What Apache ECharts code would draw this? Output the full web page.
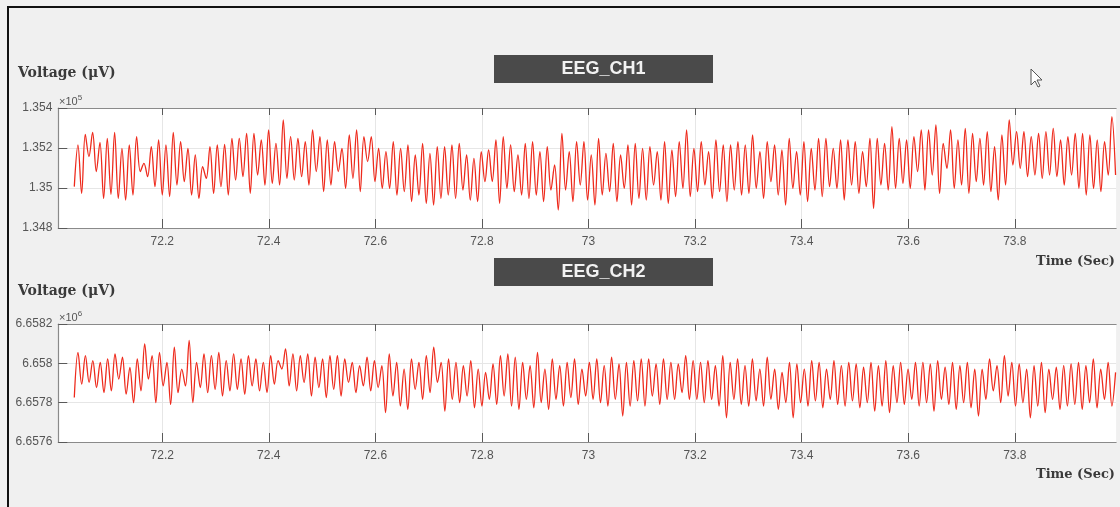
<!DOCTYPE html>
<html>
<head>
<meta charset="utf-8">
<script src="https://cdn.jsdelivr.net/npm/echarts@6/dist/echarts.min.js"></script>
<style>
html,body{margin:0;padding:0;background:#f0f0f0;}
#chart{width:1120px;height:507px;}
</style>
</head>
<body>
<div id="chart"></div>
<script>
// ---- data ----
const chartTitles = ["EEG_CH1", "EEG_CH2"];
const yAxisName = "Voltage (\u03bcV)";
const xAxisName = "Time (Sec)";
const timeStart = 72.035;   // first sample (s)
const timeEnd = 73.989;     // last sample (s)
const xMin = 72.005, xMax = 73.99;
const xTickValues = [72.2, 72.4, 72.6, 72.8, 73.0, 73.2, 73.4, 73.6, 73.8];
const ch1Range = [134800, 135400], ch1Step = 200, ch1Exp = 5;
const ch2Range = [6657600, 6658200], ch2Step = 200, ch2Exp = 6;

// EEG channel 1 (uV), peaks/troughs
const ch1Values = [
135007,135215,134973,135268,135157,135278,135082,135228,134948,135248,134968,135278,134948,135198,134940,135215,134965,135257,135082,135123,
135057,135207,135007,135240,134965,135215,134957,135278,135015,135232,135032,135198,134965,135165,134948,135107,135048,135207,134973,135215,
135007,135218,134965,135248,135040,135248,135057,135273,134973,135273,135065,135240,135015,135290,135023,135223,135015,135340,
135048,135257,135040,135248,135057,135232,135015,135290,135082,135257,134982,135240,135015,135232,135082,135198,134998,135265,135048,135290,
134982,135257,135132,135257,135032,135198,134998,135182,134998,135232,134965,135198,134982,135215,134932,135165,134965,135223,134923,135173,
134915,135207,134948,135207,134965,135215,134948,135223,134990,135165,134940,135148,134932,135182,135032,135190,
135032,135240,134923,135257,134998,135215,134982,135165,134965,135223,134948,135232,134965,135182,134932,135207,134990,135115,134890,135273,
134990,135182,134932,135232,135015,135232,134940,135165,134915,135248,134965,135173,134982,135223,134932,135165,134998,135215,134915,135223,
134948,135198,134940,135207,135015,135182,134940,135232,134923,135190,134957,135232,134998,135290,134957,135198,
134982,135232,135015,135182,134948,135240,134982,135215,134932,135215,134990,135232,134965,135215,134973,135265,134998,135182,134948,135232,
135032,135215,134965,135190,134915,135248,134998,135182,134965,135232,134932,135198,134990,135248,134957,135248,135007,135198,134998,135240,
134940,135240,135015,135232,134973,135182,135007,135248,134898,135248,135015,135223,134990,135307,134998,135248,
135023,135240,134998,135257,135082,135290,134990,135290,135065,135315,134973,135223,135098,135290,134998,135240,135015,135298,134973,135273,
135032,135248,135015,135282,134982,135207,134940,135265,135015,135340,135115,135282,135098,135282,135057,135257,135065,135273,135048,135282,
135065,135298,135057,135240,135015,135257,135065,135273,134998,135273,134965,135265,134998,135240,134982,135232,135065,135357,135065
];

// EEG channel 2 (uV), peaks/troughs
const ch2Values = [
6657826,6658056,6657894,6658039,6657903,6658014,6657877,6658005,6657851,6658022,6657860,6658048,6657920,6658031,6657843,6657979,6657800,6658022,6657860,6658099,
6657920,6658039,6657800,6658056,6657885,6658005,6657791,6658082,6657851,6657971,6657885,6658116,6657800,6658005,6657877,6658048,6657851,6658039,6657868,6658056,
6657834,6658014,6657860,6658048,6657868,6658022,6657843,6658039,6657885,6658022,6657860,6658005,6657851,6658039,6657894,6658014,
6657971,6658074,6657885,6658048,6657860,6658039,6657903,6658048,6657834,6658031,6657877,6658022,6657826,6658039,6657868,6658039,6657834,6658022,6657903,6658005,
6657851,6657988,6657885,6658031,6657860,6658014,6657877,6657988,6657749,6658048,6657834,6658005,6657783,6657971,6657766,6658022,6657868,6658005,6657817,6658039,
6657851,6658082,6657903,6658005,6657757,6658022,6657817,6658005,6657800,6657988,6657834,6658014,6657774,6657971,6657783,6657954,
6657817,6657997,6657791,6658039,6657834,6658048,6657783,6658031,6657766,6658005,6657817,6657988,6657774,6658056,6657800,6657971,6657766,6658022,6657817,6657988,
6657783,6658005,6657826,6658022,6657791,6657971,6657834,6658005,6657817,6658022,6657800,6657988,6657783,6658031,6657817,6657997,6657732,6658005,6657783,6658014,
6657809,6658022,6657783,6658022,6657834,6657997,6657791,6658022,6657817,6658005,6657817,6657997,6657851,6658039,6657817,6658014,
6657817,6658005,6657800,6658014,6657817,6657988,6657783,6658039,6657723,6658005,6657817,6658022,6657791,6657988,6657783,6658022,6657809,6657971,6657783,6658031,
6657817,6657971,6657766,6657954,6657800,6658005,6657723,6657997,6657800,6657971,6657783,6658014,6657809,6658005,6657774,6657971,6657817,6658014,6657791,6657988,
6657783,6658005,6657809,6657997,6657774,6657980,6657800,6658005,6657757,6657988,6657783,6658014,6657749,6657988,6657800,6658005,
6657791,6657971,6657817,6658005,6657783,6658005,6657800,6657997,6657757,6658014,6657817,6657980,6657791,6658005,6657766,6657988,6657800,6658005,6657774,6657971,
6657732,6657971,6657817,6658022,6657860,6657988,6657800,6658039,6657834,6658005,6657783,6657997,6657800,6657971,6657723,6657988,6657783,6658005,6657749,6657971,
6657817,6657980,6657766,6657988,6657783,6657997,6657791,6658005,6657766,6657988,6657800,6658022,6657774,6657971,6657817,6658005,6657783,6657954
];

// ---- build ----
function toSeries(vals) {
  const n = vals.length;
  const dt = (timeEnd - timeStart) / (n - 1);
  return vals.map((v, i) => [timeStart + i * dt, v]);
}
function fmtExp(exp) {
  const p = Math.pow(10, exp);
  return v => String(parseFloat((v / p).toFixed(5)));
}

const GRID_LEFT = 58.3, GRID_W = 1057.8;
const boxColor = '#8a8a8a';
const tickColor = '#5a5a5a';
const labelColor = '#555555';
const gridColor = '#e6e6e6';
const lineColor = '#ee2a1c';

function xAxes(gi) {
  return [
    {
      type: 'value', gridIndex: gi, min: xMin, max: xMax, position: 'bottom',
      axisLine: { show: true, lineStyle: { color: boxColor, width: 1.2 } },
      axisTick: { show: true, inside: true, length: 9, customValues: xTickValues, lineStyle: { color: tickColor, width: 1 } },
      axisLabel: { show: true, customValues: xTickValues, margin: 8, color: labelColor,
        fontFamily: 'Liberation Sans, Arial, sans-serif', fontSize: 12, formatter: v => String(parseFloat(v.toFixed(1))) },
      splitLine: { show: true, lineStyle: { color: gridColor, width: 1 } }
    },
    {
      type: 'value', gridIndex: gi, min: xMin, max: xMax, position: 'top',
      axisLine: { show: true, lineStyle: { color: boxColor, width: 1.2 } },
      axisTick: { show: true, inside: true, length: 7, customValues: xTickValues, lineStyle: { color: tickColor, width: 1 } },
      axisLabel: { show: false, customValues: xTickValues },
      splitLine: { show: false }
    }
  ];
}
function yAxis(gi, range, step, exp) {
  return {
    type: 'value', gridIndex: gi, min: range[0], max: range[1], interval: step,
    axisLine: { show: true, lineStyle: { color: boxColor, width: 1.2 } },
    axisTick: { show: true, inside: true, length: 9, lineStyle: { color: tickColor, width: 1 } },
    axisLabel: { show: true, margin: 6, color: labelColor, fontFamily: 'Liberation Sans, Arial, sans-serif',
      fontSize: 12, formatter: fmtExp(exp) },
    splitLine: { show: true, lineStyle: { color: gridColor, width: 1 } }
  };
}

const titleFont = 'bold 18px "Liberation Sans", Arial, sans-serif';
const serifFont = 'bold 14px "DejaVu Serif", serif';
const axisNameFont = 'bold 13px "DejaVu Serif", serif';

function titleBar(txt, y) {
  return [
    { type: 'rect', shape: { x: 494, y: y, width: 219, height: 28 }, style: { fill: '#4a4a4a' }, z: 10 },
    { type: 'text', x: 603.5, y: y + 14, style: { text: txt, font: titleFont, fill: '#f2f2f2', align: 'center', verticalAlign: 'middle' }, z: 11 }
  ];
}
function expLabel(exp, y) {
  return {
    type: 'text', x: 59, y: y, z: 11,
    style: {
      text: '\u00d710{s|' + exp + '}', fill: labelColor, font: '11px "Liberation Sans", Arial, sans-serif',
      verticalAlign: 'middle',
      rich: { s: { fontSize: 8, padding: [0, 0, 8, 0], fill: labelColor, fontFamily: 'Liberation Sans, Arial, sans-serif' } }
    }
  };
}

const chart = echarts.init(document.getElementById('chart'), null, { renderer: 'canvas' });
chart.setOption({
  animation: false,
  backgroundColor: '#f0f0f0',
  grid: [
    { left: GRID_LEFT, top: 108, width: GRID_W, height: 120, backgroundColor: '#ffffff', show: true, borderWidth: 0 },
    { left: GRID_LEFT, top: 324, width: GRID_W, height: 118, backgroundColor: '#ffffff', show: true, borderWidth: 0 }
  ],
  xAxis: [].concat(xAxes(0), xAxes(1)),
  yAxis: [yAxis(0, ch1Range, ch1Step, ch1Exp), yAxis(1, ch2Range, ch2Step, ch2Exp)],
  series: [
    { name: chartTitles[0], type: 'line', xAxisIndex: 0, yAxisIndex: 0, data: toSeries(ch1Values),
      showSymbol: false, smooth: 0.35, lineStyle: { color: lineColor, width: 1.3 }, z: 5 },
    { name: chartTitles[1], type: 'line', xAxisIndex: 2, yAxisIndex: 1, data: toSeries(ch2Values),
      showSymbol: false, smooth: 0.35, lineStyle: { color: lineColor, width: 1.3 }, z: 5 }
  ],
  graphic: [
    { type: 'rect', shape: { x: 8, y: 7, width: 1130, height: 520 }, style: { fill: 'none', stroke: '#111', lineWidth: 2 }, z: 20 },
    ...titleBar(chartTitles[0], 55),
    ...titleBar(chartTitles[1], 258),
    { type: 'text', x: 18, y: 73, style: { text: yAxisName, font: serifFont, fill: '#3a3a3a', verticalAlign: 'middle' }, z: 11 },
    { type: 'text', x: 18, y: 291, style: { text: yAxisName, font: serifFont, fill: '#3a3a3a', verticalAlign: 'middle' }, z: 11 },
    { type: 'text', x: 1115, y: 262, style: { text: xAxisName, font: axisNameFont, fill: '#3a3a3a', align: 'right', verticalAlign: 'middle' }, z: 11 },
    { type: 'text', x: 1115, y: 475, style: { text: xAxisName, font: axisNameFont, fill: '#3a3a3a', align: 'right', verticalAlign: 'middle' }, z: 11 },
    expLabel(ch1Exp, 102),
    expLabel(ch2Exp, 318),
    { type: 'polygon', z: 30,
      shape: { points: [[1031, 69], [1031, 85], [1035, 81], [1038, 87], [1040, 86], [1037, 80], [1042, 80]] },
      style: { fill: '#ffffff', stroke: '#555', lineWidth: 1 } }
  ]
});
</script>
</body>
</html>
